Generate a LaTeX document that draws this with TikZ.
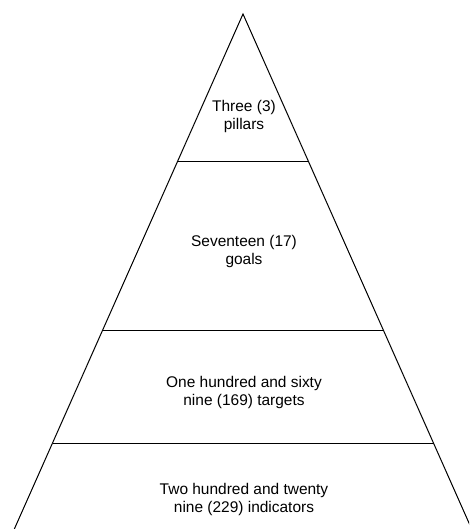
\documentclass[tikz,border=0pt]{standalone}
\usepackage{fontspec}
\setmainfont{Liberation Sans}
\begin{document}
\begin{tikzpicture}[x=0.75pt,y=-0.75pt,
  edge/.style={draw=black,line width=0.75pt},
  lbl/.style={align=center,font=\fontsize{11.6}{13.5}\selectfont,inner sep=0pt}]
\useasboundingbox (0,0) rectangle (469,529);
\clip (0,0) rectangle (469,529);
\coordinate (apex) at (243,14);
\coordinate (bl) at (9.9,539);
\coordinate (br) at (476.1,539);
\draw[edge,line join=miter] (bl) -- (apex) -- (br);
\coordinate (l1a) at (177.7,161); \coordinate (l1b) at (308.3,161);
\coordinate (l2a) at (102.7,330); \coordinate (l2b) at (383.3,330);
\coordinate (l3a) at (52.5,443);  \coordinate (l3b) at (433.5,443);
\draw[edge] (l1a) -- (l1b);
\draw[edge] (l2a) -- (l2b);
\draw[edge] (l3a) -- (l3b);
\node[lbl] (t1) at (244,116) {Three (3)\\pillars};
\node[lbl] (t2) at (244,251) {Seventeen (17)\\goals};
\node[lbl] (t3) at (244,392) {One hundred and sixty\\nine (169) targets};
\node[lbl] (t4) at (244,499) {Two hundred and twenty\\nine (229) indicators};
\end{tikzpicture}
\end{document}
